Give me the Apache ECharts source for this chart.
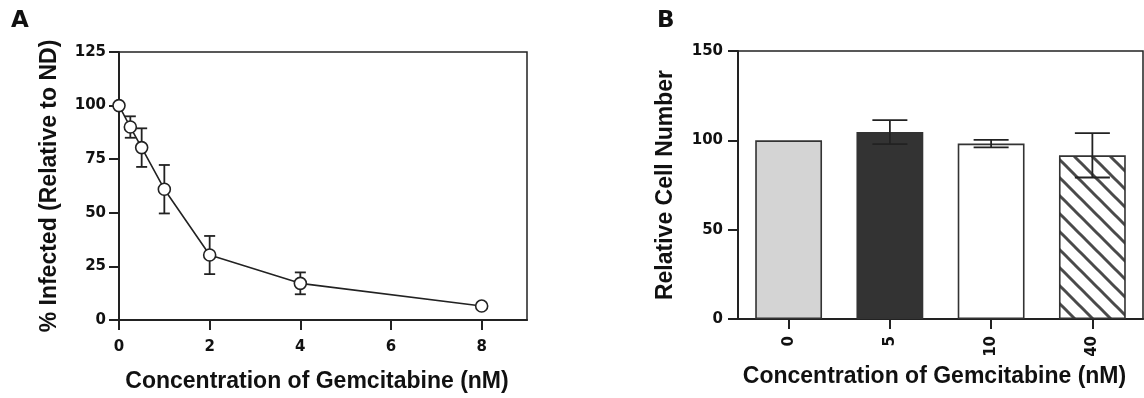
<!DOCTYPE html>
<html>
<head>
<meta charset="utf-8">
<script src="https://cdn.jsdelivr.net/npm/echarts@6/dist/echarts.min.js"></script>
<style>
  html, body { margin: 0; padding: 0; background: #fff; }
  #chart { width: 1144px; height: 398px; }
</style>
</head>
<body>
<div id="chart"></div>
<script>
// Panel A: infection vs. gemcitabine dose (mean ± SD)
const doseA = [0, 0.25, 0.5, 1, 2, 4, 8];
const infectedA = [100, 90, 80.4, 61, 30.3, 17.1, 6.5];
const infectedErrA = [0, 5, 9, 11.3, 8.9, 5.1, 0];
const xTicksA = [0, 2, 4, 6, 8];

// Panel B: relative cell number per dose
const doseB = ['0', '5', '10', '40'];
const cellsB = [100, 104.6, 98.2, 91.6];
const cellsErrB = [0, 6.7, 2.1, 12.4];

const INK = '#222';
const tickFont = { fontFamily: 'DejaVu Sans', fontWeight: 'bold', fontSize: 15, color: '#111' };
const titleFont = { fontFamily: 'Liberation Sans', fontWeight: 'bold', fontSize: 23, color: '#111' };

// diagonal hatch used for the 40 nM bar
function hatchPattern() {
  const s = 18;
  const c = document.createElement('canvas');
  c.width = s; c.height = s;
  const g = c.getContext('2d');
  g.fillStyle = '#fff';
  g.fillRect(0, 0, s, s);
  g.strokeStyle = '#4a4a4a';
  g.lineWidth = 3;
  g.lineCap = 'square';
  for (const off of [-s, 0, s]) {
    g.beginPath();
    g.moveTo(off, 0);
    g.lineTo(off + s, s);
    g.stroke();
  }
  return { image: c, repeat: 'repeat' };
}

const barFills = ['#d4d4d4', '#333333', '#ffffff', hatchPattern()];

// error bar: vertical whisker with caps
function errorBars(capHalf, width) {
  return function (params, api) {
    const x = api.value(0);
    const lo = api.value(1);
    const hi = api.value(2);
    if (hi - lo <= 0) return null;
    const top = api.coord([x, hi]);
    const bot = api.coord([x, lo]);
    const style = { stroke: INK, lineWidth: width };
    return {
      type: 'group',
      children: [
        { type: 'line', shape: { x1: top[0], y1: top[1], x2: bot[0], y2: bot[1] }, style },
        { type: 'line', shape: { x1: top[0] - capHalf, y1: top[1], x2: top[0] + capHalf, y2: top[1] }, style },
        { type: 'line', shape: { x1: bot[0] - capHalf, y1: bot[1], x2: bot[0] + capHalf, y2: bot[1] }, style }
      ]
    };
  };
}

const errDataA = doseA.map((d, i) => [d, infectedA[i] - infectedErrA[i], infectedA[i] + infectedErrA[i]]);
const errDataB = doseB.map((d, i) => [i, cellsB[i] - cellsErrB[i], cellsB[i] + cellsErrB[i]]);

const axisLine = { show: true, lineStyle: { color: INK, width: 2 } };
const axisTick = { show: true, inside: false, length: 10, lineStyle: { color: INK, width: 2 } };

const chart = echarts.init(document.getElementById('chart'), null, { renderer: 'canvas' });

chart.setOption({
  animation: false,
  backgroundColor: '#fff',
  title: [
    { text: 'A', left: 6, top: 5, textStyle: { fontFamily: 'DejaVu Sans', fontWeight: 'bold', fontSize: 23, color: '#111' } },
    { text: 'B', left: 652, top: 5, textStyle: { fontFamily: 'DejaVu Sans', fontWeight: 'bold', fontSize: 23, color: '#111' } }
  ],
  grid: [
    { left: 119, top: 52, width: 408, height: 268, show: true, borderColor: INK, borderWidth: 1.5, outerBoundsMode: 'none', containLabel: false },
    { left: 738, top: 51, width: 405, height: 268, show: true, borderColor: INK, borderWidth: 1.5, outerBoundsMode: 'none', containLabel: false }
  ],
  xAxis: [
    {
      gridIndex: 0, type: 'value', min: 0, max: 9, interval: 1,
      splitLine: { show: false },
      axisLine, axisTick: Object.assign({}, axisTick, { customValues: xTicksA }),
      axisLabel: Object.assign({ margin: 20, customValues: xTicksA }, tickFont),
      name: 'Concentration of Gemcitabine (nM)', nameLocation: 'middle', nameGap: 50,
      nameTextStyle: Object.assign({ padding: [0, 12, 0, 0] }, titleFont)
    },
    {
      gridIndex: 1, type: 'category', data: doseB,
      axisLine, axisTick: Object.assign({ alignWithLabel: true }, axisTick),
      axisLabel: Object.assign({ rotate: 90, margin: 17 }, tickFont),
      name: 'Concentration of Gemcitabine (nM)', nameLocation: 'middle', nameGap: 46,
      nameTextStyle: Object.assign({ padding: [0, 12, 0, 0] }, titleFont)
    }
  ],
  yAxis: [
    {
      gridIndex: 0, type: 'value', min: 0, max: 125, interval: 25,
      splitLine: { show: false },
      axisLine, axisTick,
      axisLabel: Object.assign({ margin: 13 }, tickFont),
      name: '% Infected (Relative to ND)', nameLocation: 'middle', nameGap: 58, nameRotate: 90,
      nameTextStyle: titleFont
    },
    {
      gridIndex: 1, type: 'value', min: 0, max: 150, interval: 50,
      splitLine: { show: false },
      axisLine, axisTick,
      axisLabel: Object.assign({ margin: 15 }, tickFont),
      name: 'Relative Cell Number', nameLocation: 'middle', nameGap: 61, nameRotate: 90,
      nameTextStyle: titleFont
    }
  ],
  series: [
    {
      type: 'custom', xAxisIndex: 0, yAxisIndex: 0, z: 2,
      renderItem: errorBars(5.5, 1.8),
      data: errDataA
    },
    {
      type: 'line', xAxisIndex: 0, yAxisIndex: 0, z: 3,
      data: doseA.map((d, i) => [d, infectedA[i]]),
      symbol: 'circle', symbolSize: 12, showAllSymbol: true,
      lineStyle: { color: INK, width: 1.6 },
      itemStyle: { color: '#fff', borderColor: INK, borderWidth: 1.6 }
    },
    {
      type: 'bar', xAxisIndex: 1, yAxisIndex: 1, z: 2,
      barWidth: '66%',
      data: cellsB.map((v, i) => ({ value: v, itemStyle: { color: barFills[i] } })),
      itemStyle: { borderColor: '#333', borderWidth: 1.6 }
    },
    {
      type: 'custom', xAxisIndex: 1, yAxisIndex: 1, z: 4,
      renderItem: errorBars(17.5, 1.8),
      data: errDataB
    }
  ]
});
</script>
</body>
</html>
